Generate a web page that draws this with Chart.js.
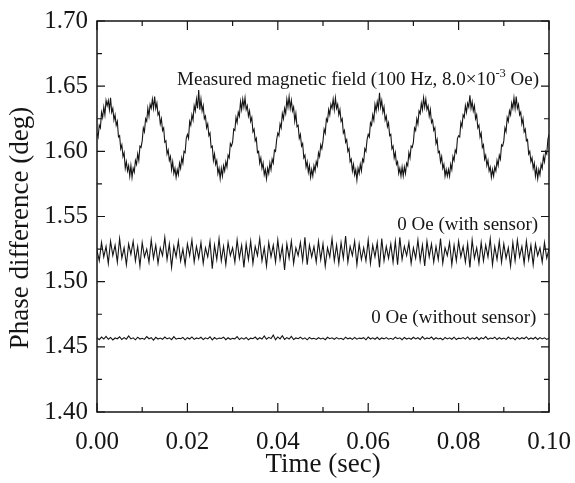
<!DOCTYPE html>
<html>
<head>
<meta charset="utf-8">
<script src="https://cdn.jsdelivr.net/npm/chart.js@4"></script>
<style>
  body { margin: 0; background: #fff; }
  #wrap { width: 575px; height: 483px; }
</style>
</head>
<body>
<div id="wrap"><canvas id="myChart" width="575" height="483"></canvas></div>
<script>
// sampling steps of the traces (sec)
const fieldStep = 0.00025;
const zeroStep = 0.0005;

// 100 Hz field, 8.0x10^-3 Oe
const fieldTrace = [
  1.614,1.611,1.620,1.618,1.630,1.626,1.634,1.628,1.639,1.635,1.639,1.632,1.641,1.630,1.633,1.624,1.628,1.620,1.623,1.611,
  1.612,1.602,1.605,1.596,1.599,1.587,1.592,1.585,1.589,1.581,1.589,1.580,1.587,1.584,1.593,1.590,1.598,1.593,1.604,1.603,
  1.608,1.618,1.615,1.625,1.623,1.633,1.627,1.636,1.633,1.640,1.633,1.642,1.633,1.637,1.628,1.630,1.621,1.625,1.616,1.618,
  1.607,1.608,1.598,1.601,1.593,1.596,1.586,1.592,1.583,1.587,1.580,1.586,1.582,1.591,1.587,1.595,1.591,1.600,1.599,1.610,
  1.613,1.610,1.623,1.620,1.628,1.624,1.635,1.631,1.640,1.633,1.647,1.632,1.640,1.631,1.635,1.625,1.627,1.618,1.621,1.612,
  1.614,1.603,1.604,1.593,1.598,1.590,1.593,1.583,1.587,1.579,1.587,1.581,1.589,1.585,1.592,1.588,1.597,1.595,1.606,1.604,
  1.607,1.617,1.616,1.626,1.622,1.630,1.627,1.638,1.632,1.640,1.634,1.641,1.632,1.635,1.627,1.631,1.623,1.626,1.615,1.617,
  1.608,1.610,1.599,1.600,1.591,1.595,1.587,1.591,1.582,1.586,1.579,1.587,1.583,1.591,1.586,1.594,1.591,1.601,1.600,1.609,
  1.614,1.612,1.621,1.618,1.629,1.625,1.633,1.629,1.640,1.634,1.642,1.633,1.639,1.631,1.634,1.623,1.629,1.619,1.620,1.610,
  1.613,1.604,1.606,1.595,1.597,1.588,1.592,1.584,1.589,1.580,1.586,1.581,1.589,1.585,1.592,1.589,1.599,1.596,1.605,1.602,
  1.608,1.617,1.614,1.625,1.623,1.632,1.628,1.636,1.633,1.640,1.632,1.641,1.633,1.636,1.628,1.632,1.623,1.625,1.614,1.616,
  1.607,1.609,1.600,1.602,1.592,1.594,1.585,1.590,1.582,1.586,1.578,1.587,1.583,1.590,1.585,1.594,1.592,1.602,1.600,1.609,
  1.613,1.611,1.622,1.620,1.628,1.624,1.636,1.631,1.638,1.633,1.645,1.634,1.639,1.630,1.634,1.624,1.627,1.619,1.622,1.612,
  1.613,1.602,1.604,1.595,1.599,1.590,1.592,1.583,1.587,1.581,1.588,1.581,1.588,1.583,1.591,1.589,1.599,1.595,1.604,1.603,
  1.607,1.618,1.616,1.625,1.621,1.631,1.629,1.637,1.632,1.641,1.634,1.640,1.632,1.635,1.627,1.632,1.622,1.624,1.616,1.618,
  1.606,1.609,1.599,1.600,1.592,1.596,1.587,1.590,1.581,1.586,1.581,1.586,1.581,1.590,1.586,1.596,1.593,1.601,1.599,1.610,
  1.612,1.611,1.622,1.619,1.628,1.626,1.635,1.630,1.637,1.634,1.643,1.633,1.638,1.631,1.635,1.625,1.628,1.618,1.620,1.611,
  1.614,1.603,1.605,1.594,1.597,1.589,1.593,1.585,1.588,1.580,1.586,1.581,1.588,1.585,1.593,1.589,1.597,1.594,1.605,1.604,
  1.608,1.618,1.615,1.626,1.623,1.631,1.628,1.637,1.633,1.641,1.633,1.642,1.633,1.636,1.628,1.630,1.621,1.625,1.615,1.617,
  1.608,1.609,1.598,1.600,1.592,1.595,1.587,1.591,1.581,1.587,1.579,1.586,1.582,1.590,1.587,1.596,1.592,1.600,1.598,1.609,
  1.613
];

// 0 Oe, with sensor
const withSensor = [
  1.524,1.516,1.530,1.519,1.527,1.514,1.531,1.520,1.528,1.515,
  1.533,1.518,1.526,1.513,1.529,1.521,1.531,1.516,1.527,1.512,
  1.530,1.519,1.525,1.515,1.532,1.518,1.528,1.514,1.526,1.520,
  1.534,1.517,1.529,1.511,1.527,1.519,1.531,1.516,1.525,1.513,
  1.529,1.520,1.532,1.515,1.527,1.518,1.530,1.514,1.526,1.519,
  1.531,1.510,1.528,1.517,1.533,1.516,1.527,1.513,1.530,1.520,
  1.526,1.515,1.532,1.518,1.528,1.511,1.529,1.517,1.531,1.514,
  1.527,1.520,1.533,1.516,1.526,1.512,1.530,1.519,1.528,1.515,
  1.532,1.517,1.527,1.509,1.529,1.518,1.531,1.514,1.526,1.520,
  1.530,1.516,1.534,1.513,1.528,1.519,1.527,1.515,1.531,1.517,
  1.529,1.512,1.526,1.519,1.533,1.516,1.528,1.514,1.530,1.518,
  1.535,1.515,1.527,1.520,1.531,1.513,1.529,1.517,1.526,1.516,
  1.532,1.514,1.528,1.519,1.530,1.511,1.533,1.516,1.527,1.518,
  1.529,1.515,1.531,1.513,1.534,1.517,1.527,1.520,1.530,1.514,
  1.526,1.518,1.532,1.516,1.528,1.512,1.531,1.519,1.529,1.515,
  1.527,1.517,1.533,1.514,1.526,1.520,1.530,1.513,1.528,1.516,
  1.531,1.519,1.527,1.515,1.529,1.511,1.532,1.518,1.526,1.514,
  1.530,1.516,1.528,1.519,1.533,1.513,1.527,1.517,1.531,1.515,
  1.529,1.518,1.526,1.512,1.530,1.516,1.532,1.519,1.527,1.514,
  1.531,1.517,1.528,1.513,1.529,1.520,1.526,1.515,1.530,1.518,
  1.525
];

// 0 Oe, without sensor
const withoutSensor = [
  1.4570,1.4555,1.4575,1.4560,1.4580,1.4558,1.4572,1.4553,1.4568,1.4562,
  1.4577,1.4556,1.4571,1.4559,1.4583,1.4561,1.4569,1.4554,1.4574,1.4560,
  1.4566,1.4557,1.4579,1.4562,1.4570,1.4552,1.4573,1.4560,1.4567,1.4558,
  1.4575,1.4561,1.4569,1.4555,1.4578,1.4559,1.4566,1.4563,1.4572,1.4554,
  1.4570,1.4560,1.4576,1.4557,1.4568,1.4562,1.4573,1.4556,1.4569,1.4561,
  1.4577,1.4553,1.4571,1.4559,1.4567,1.4564,1.4574,1.4555,1.4570,1.4558,
  1.4565,1.4561,1.4578,1.4556,1.4569,1.4559,1.4572,1.4554,1.4567,1.4562,
  1.4575,1.4557,1.4570,1.4560,1.4584,1.4558,1.4573,1.4563,1.4590,1.4555,
  1.4576,1.4561,1.4585,1.4557,1.4571,1.4560,1.4580,1.4556,1.4568,1.4562,
  1.4574,1.4559,1.4569,1.4554,1.4572,1.4561,1.4566,1.4557,1.4570,1.4560,
  1.4567,1.4555,1.4573,1.4562,1.4569,1.4558,1.4571,1.4560,1.4566,1.4556,
  1.4574,1.4561,1.4568,1.4557,1.4572,1.4559,1.4567,1.4563,1.4570,1.4554,
  1.4575,1.4560,1.4569,1.4558,1.4573,1.4556,1.4568,1.4561,1.4571,1.4559,
  1.4566,1.4557,1.4574,1.4562,1.4569,1.4555,1.4572,1.4560,1.4567,1.4558,
  1.4573,1.4561,1.4570,1.4556,1.4578,1.4559,1.4568,1.4562,1.4575,1.4557,
  1.4570,1.4560,1.4566,1.4554,1.4572,1.4561,1.4569,1.4558,1.4574,1.4556,
  1.4567,1.4562,1.4571,1.4559,1.4576,1.4557,1.4569,1.4560,1.4573,1.4555,
  1.4570,1.4561,1.4578,1.4558,1.4568,1.4563,1.4574,1.4556,1.4571,1.4560,
  1.4567,1.4557,1.4575,1.4561,1.4569,1.4555,1.4572,1.4559,1.4570,1.4562,
  1.4576,1.4558,1.4568,1.4560,1.4573,1.4556,1.4571,1.4561,1.4569,1.4557,
  1.4566
];

const xTicks = [0.00, 0.02, 0.04, 0.06, 0.08, 0.10];
const xMinorTicks = [0.01, 0.03, 0.05, 0.07, 0.09];
const yTicks = [1.40, 1.45, 1.50, 1.55, 1.60, 1.65, 1.70];
const yMinorTicks = [1.425, 1.475, 1.525, 1.575, 1.625, 1.675];

// trace labels: text, right end (sec), middle (deg)
const traceLabels = [
  { text: 'Measured magnetic field (100 Hz, 8.0\u00d710', sup: '-3', tail: ' Oe)', x: 0.0978, y: 1.6545 },
  { text: '0 Oe (with sensor)', x: 0.0976, y: 1.5436 },
  { text: '0 Oe (without sensor)', x: 0.0972, y: 1.4722 }
];

const serif = '"Liberation Serif", "DejaVu Serif", serif';
const ink = '#151515';

function toPoints(arr, step) {
  return arr.map((v, i) => ({ x: i * step, y: v }));
}

const framePlugin = {
  id: 'frame',
  afterDraw(chart) {
    const ctx = chart.ctx;
    const a = chart.chartArea;
    const sx = chart.scales.x;
    const sy = chart.scales.y;
    ctx.save();
    ctx.strokeStyle = ink;
    ctx.lineWidth = 1.5;
    ctx.strokeRect(a.left, a.top, a.right - a.left, a.bottom - a.top);

    ctx.lineWidth = 1.2;
    ctx.beginPath();
    const tick = (vals, len) => {
      vals.forEach(v => {
        const px = sx.getPixelForValue(v);
        ctx.moveTo(px, a.bottom); ctx.lineTo(px, a.bottom - len);
        ctx.moveTo(px, a.top); ctx.lineTo(px, a.top + len);
      });
    };
    const ytick = (vals, len) => {
      vals.forEach(v => {
        const py = sy.getPixelForValue(v);
        ctx.moveTo(a.left, py); ctx.lineTo(a.left + len, py);
        ctx.moveTo(a.right, py); ctx.lineTo(a.right - len, py);
      });
    };
    tick(xTicks, 9);
    tick(xMinorTicks, 5);
    ytick(yTicks, 8);
    ytick(yMinorTicks, 5);
    ctx.stroke();

    ctx.fillStyle = ink;

    // y axis title
    ctx.save();
    ctx.translate(21, 228);
    ctx.rotate(-Math.PI / 2);
    ctx.textAlign = 'center';
    ctx.textBaseline = 'middle';
    ctx.font = '27px ' + serif;
    ctx.fillText('Phase difference (deg)', 0, 0);
    ctx.restore();

    // labels on the traces
    ctx.textBaseline = 'middle';
    const big = '19px ' + serif;
    const small = '12.5px ' + serif;
    traceLabels.forEach(l => {
      const right = sx.getPixelForValue(l.x);
      const py = sy.getPixelForValue(l.y);
      ctx.font = big;
      if (!l.sup) {
        ctx.textAlign = 'right';
        ctx.fillText(l.text, right, py);
        return;
      }
      ctx.textAlign = 'left';
      const w1 = ctx.measureText(l.text).width;
      const w3 = ctx.measureText(l.tail).width;
      ctx.font = small;
      const w2 = ctx.measureText(l.sup).width;
      const px = right - w1 - w2 - w3;
      ctx.font = big;
      ctx.fillText(l.text, px, py);
      ctx.font = small;
      ctx.fillText(l.sup, px + w1, py - 7);
      ctx.font = big;
      ctx.fillText(l.tail, px + w1 + w2, py);
    });
    ctx.restore();
  }
};

const lineStyle = {
  borderColor: ink,
  borderWidth: 1.1,
  pointRadius: 0,
  tension: 0,
  fill: false
};

const ctx = document.getElementById('myChart');
const phaseChart = new Chart(ctx, {
  type: 'line',
  data: {
    datasets: [
      Object.assign({ label: 'Measured magnetic field', data: toPoints(fieldTrace, fieldStep) }, lineStyle),
      Object.assign({ label: '0 Oe (with sensor)', data: toPoints(withSensor, zeroStep) }, lineStyle),
      Object.assign({ label: '0 Oe (without sensor)', data: toPoints(withoutSensor, zeroStep) }, lineStyle)
    ]
  },
  options: {
    responsive: false,
    animation: false,
    devicePixelRatio: 1,
    layout: { padding: { left: 0, right: 26, top: 21, bottom: 0 } },
    plugins: { legend: { display: false }, tooltip: { enabled: false } },
    scales: {
      x: {
        type: 'linear',
        min: 0,
        max: 0.1,
        afterFit: s => { s.height = 71; s.paddingLeft = 0; s.paddingRight = 0; },
        afterBuildTicks: s => { s.ticks = xTicks.map(v => ({ value: v })); },
        grid: { display: false, drawTicks: false },
        border: { display: false },
        ticks: {
          color: ink,
          padding: 15,
          maxRotation: 0,
          font: { family: serif, size: 25 },
          callback: v => Number(v).toFixed(2)
        },
        title: {
          display: true,
          text: 'Time (sec)',
          color: ink,
          font: { family: serif, size: 27, lineHeight: 1.2 },
          padding: { top: 0, bottom: 2 }
        }
      },
      y: {
        min: 1.40,
        max: 1.70,
        afterFit: s => { s.width = 97; s.paddingTop = 0; s.paddingBottom = 0; },
        afterBuildTicks: s => { s.ticks = yTicks.map(v => ({ value: v })); },
        grid: { display: false, drawTicks: false },
        border: { display: false },
        ticks: {
          color: ink,
          padding: 9,
          font: { family: serif, size: 25 },
          callback: v => Number(v).toFixed(2)
        }
      }
    }
  },
  plugins: [framePlugin]
});
</script>
</body>
</html>
